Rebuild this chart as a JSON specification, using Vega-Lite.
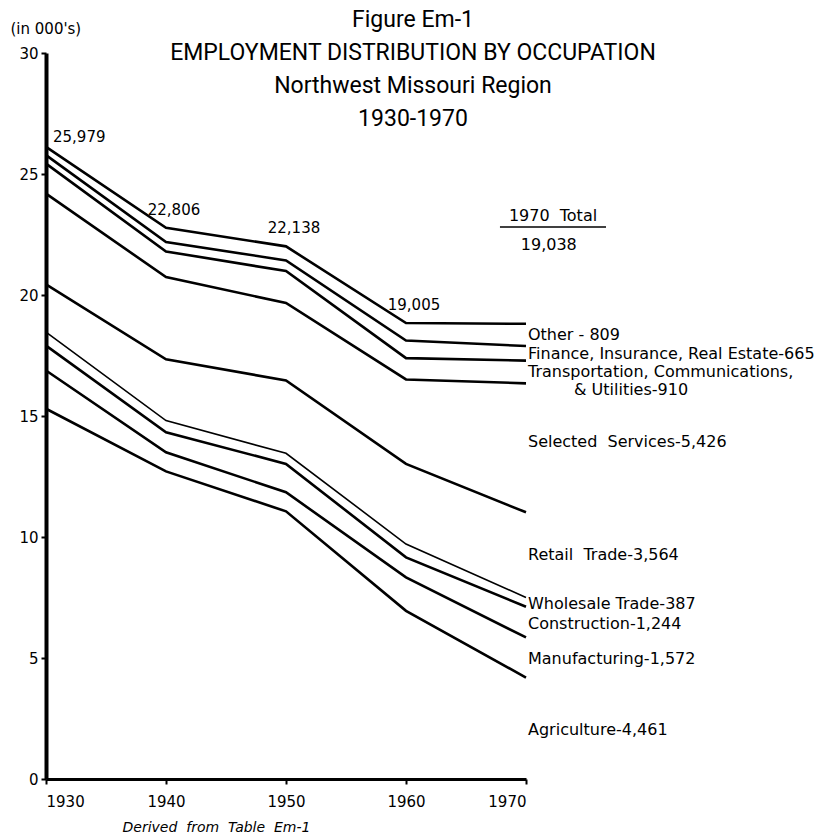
{
  "$schema": "https://vega.github.io/schema/vega-lite/v6.json",
  "width": 480,
  "height": 726,
  "autosize": "none",
  "padding": {"left": 46, "top": 53, "right": 299, "bottom": 59},
  "background": "white",
  "config": {"view": {"stroke": null}, "font": "DejaVu Sans"},
  "title": {
    "text": ["Figure Em-1", "EMPLOYMENT DISTRIBUTION BY OCCUPATION", "Northwest Missouri Region", "1930-1970"],
    "font": "Liberation Sans Narrow, Arial Narrow, Roboto",
    "fontSize": 23,
    "fontWeight": "normal",
    "lineHeight": 33,
    "color": "black",
    "anchor": "middle",
    "baseline": "top",
    "dx": 127,
    "dy": 114
  },
  "datasets": {
    "lines": [
      {"series": "Other", "year": 1930, "value": 26.12, "note": "25,979"},
      {"series": "Other", "year": 1940, "value": 22.78, "note": "22,806"},
      {"series": "Other", "year": 1950, "value": 22.01, "note": "22,138"},
      {"series": "Other", "year": 1960, "value": 18.84, "note": "19,005"},
      {"series": "Other", "year": 1970, "value": 18.81},
      {"series": "Finance", "year": 1930, "value": 25.78},
      {"series": "Finance", "year": 1940, "value": 22.19},
      {"series": "Finance", "year": 1950, "value": 21.43},
      {"series": "Finance", "year": 1960, "value": 18.12},
      {"series": "Finance", "year": 1970, "value": 17.89},
      {"series": "Transport", "year": 1930, "value": 25.43},
      {"series": "Transport", "year": 1940, "value": 21.80},
      {"series": "Transport", "year": 1950, "value": 20.99},
      {"series": "Transport", "year": 1960, "value": 17.39},
      {"series": "Transport", "year": 1970, "value": 17.29},
      {"series": "Services", "year": 1930, "value": 24.19},
      {"series": "Services", "year": 1940, "value": 20.74},
      {"series": "Services", "year": 1950, "value": 19.67},
      {"series": "Services", "year": 1960, "value": 16.51},
      {"series": "Services", "year": 1970, "value": 16.35},
      {"series": "Retail", "year": 1930, "value": 20.44},
      {"series": "Retail", "year": 1940, "value": 17.34},
      {"series": "Retail", "year": 1950, "value": 16.47},
      {"series": "Retail", "year": 1960, "value": 13.02},
      {"series": "Retail", "year": 1970, "value": 11.02},
      {"series": "Wholesale", "year": 1930, "value": 18.47},
      {"series": "Wholesale", "year": 1940, "value": 14.81},
      {"series": "Wholesale", "year": 1950, "value": 13.46},
      {"series": "Wholesale", "year": 1960, "value": 9.71},
      {"series": "Wholesale", "year": 1970, "value": 7.50},
      {"series": "Construction", "year": 1930, "value": 17.91},
      {"series": "Construction", "year": 1940, "value": 14.33},
      {"series": "Construction", "year": 1950, "value": 13.02},
      {"series": "Construction", "year": 1960, "value": 9.16},
      {"series": "Construction", "year": 1970, "value": 7.12},
      {"series": "Manufacturing", "year": 1930, "value": 16.88},
      {"series": "Manufacturing", "year": 1940, "value": 13.50},
      {"series": "Manufacturing", "year": 1950, "value": 11.85},
      {"series": "Manufacturing", "year": 1960, "value": 8.33},
      {"series": "Manufacturing", "year": 1970, "value": 5.85},
      {"series": "Agriculture", "year": 1930, "value": 15.30},
      {"series": "Agriculture", "year": 1940, "value": 12.71},
      {"series": "Agriculture", "year": 1950, "value": 11.06},
      {"series": "Agriculture", "year": 1960, "value": 6.95},
      {"series": "Agriculture", "year": 1970, "value": 4.19}
    ],
    "labels": [
      {"label": "Other\u00a0-\u00a0809", "year": 1970, "value": 18.35},
      {"label": "Finance, Insurance, Real Estate-665", "year": 1970, "value": 17.56},
      {"label": "Transportation, Communications,", "year": 1970, "value": 16.82},
      {"label": "& Utilities-910", "year": 1970, "value": 16.07},
      {"label": "Selected\u00a0\u00a0Services-5,426", "year": 1970, "value": 13.93},
      {"label": "Retail\u00a0\u00a0Trade-3,564", "year": 1970, "value": 9.26},
      {"label": "Wholesale\u00a0Trade-387", "year": 1970, "value": 7.23},
      {"label": "Construction-1,244", "year": 1970, "value": 6.40},
      {"label": "Manufacturing-1,572", "year": 1970, "value": 4.96},
      {"label": "Agriculture-4,461", "year": 1970, "value": 2.02}
    ]
  },
  "layer": [
    {
      "data": {"name": "lines"},
      "mark": {"type": "line", "color": "black", "strokeJoin": "miter"},
      "encoding": {
        "x": {
          "field": "year", "type": "quantitative",
          "scale": {"domain": [1930, 1970], "nice": false, "zero": false},
          "axis": {
            "values": [1930, 1940, 1950, 1960, 1970], "format": "d",
            "grid": false, "domainColor": "black", "domainWidth": 3,
            "tickColor": "black", "tickWidth": 2, "tickSize": 5,
            "labelColor": "black", "labelFontSize": 15, "labelPadding": 10, "labelFont": "DejaVu Sans",
            "title": "Derived\u00a0\u00a0from\u00a0\u00a0Table\u00a0\u00a0Em-1",
            "titleFontStyle": "italic", "titleFontWeight": "normal", "titleFontSize": 14,
            "titleColor": "black", "titleX": 170, "titleY": 48, "titleBaseline": "middle", "titleFont": "DejaVu Sans"
          }
        },
        "y": {
          "field": "value", "type": "quantitative",
          "scale": {"domain": [0, 30], "nice": false},
          "axis": {
            "values": [0, 5, 10, 15, 20, 25, 30],
            "grid": false, "domainColor": "black", "domainWidth": 4,
            "tickColor": "black", "tickWidth": 2, "tickSize": 5,
            "labelColor": "black", "labelFontSize": 15, "labelPadding": 3, "labelFont": "DejaVu Sans",
            "title": "(in 000's)", "titleAngle": 0, "titleAlign": "left", "titleBaseline": "middle",
            "titleX": -36, "titleY": -25, "titleFontSize": 15, "titleFontWeight": "normal",
            "titleColor": "black", "titleFont": "DejaVu Sans"
          }
        },
        "detail": {"field": "series"},
        "strokeWidth": {"condition": {"test": "datum.series === 'Wholesale'", "value": 1.6}, "value": 2.6}
      }
    },
    {
      "data": {"name": "lines"},
      "transform": [{"filter": "datum.note && datum.year === 1930"}],
      "mark": {"type": "text", "align": "left", "baseline": "middle", "dx": 7, "dy": -10, "fontSize": 15, "color": "black"},
      "encoding": {
        "x": {"field": "year", "type": "quantitative"},
        "y": {"field": "value", "type": "quantitative"},
        "text": {"field": "note"}
      }
    },
    {
      "data": {"name": "lines"},
      "transform": [{"filter": "datum.note && datum.year > 1930"}],
      "mark": {"type": "text", "align": "center", "baseline": "middle", "dx": 8, "dy": -18, "fontSize": 15, "color": "black"},
      "encoding": {
        "x": {"field": "year", "type": "quantitative"},
        "y": {"field": "value", "type": "quantitative"},
        "text": {"field": "note"}
      }
    },
    {
      "data": {"name": "labels"},
      "transform": [{"filter": "datum.label[0] !== '&'"}],
      "mark": {"type": "text", "align": "left", "baseline": "middle", "dx": 2, "fontSize": 16, "color": "black"},
      "encoding": {
        "x": {"field": "year", "type": "quantitative"},
        "y": {"field": "value", "type": "quantitative"},
        "text": {"field": "label"}
      }
    },
    {
      "data": {"name": "labels"},
      "transform": [{"filter": "datum.label[0] === '&'"}],
      "mark": {"type": "text", "align": "left", "baseline": "middle", "dx": 48, "fontSize": 16, "color": "black"},
      "encoding": {
        "x": {"field": "year", "type": "quantitative"},
        "y": {"field": "value", "type": "quantitative"},
        "text": {"field": "label"}
      }
    },
    {
      "data": {"values": [{}]},
      "mark": {"type": "text", "align": "center", "baseline": "middle", "fontSize": 16, "color": "black"},
      "encoding": {
        "x": {"datum": 1972.25, "type": "quantitative"},
        "y": {"datum": 23.26, "type": "quantitative"},
        "text": {"value": "1970\u00a0\u00a0Total"}
      }
    },
    {
      "data": {"values": [{}]},
      "mark": {"type": "rule", "color": "black", "strokeWidth": 1.5},
      "encoding": {
        "x": {"datum": 1967.83, "type": "quantitative"},
        "x2": {"datum": 1976.67},
        "y": {"datum": 22.81, "type": "quantitative"}
      }
    },
    {
      "data": {"values": [{}]},
      "mark": {"type": "text", "align": "center", "baseline": "middle", "fontSize": 16, "color": "black"},
      "encoding": {
        "x": {"datum": 1971.9, "type": "quantitative"},
        "y": {"datum": 22.07, "type": "quantitative"},
        "text": {"value": "19,038"}
      }
    }
  ]
}
